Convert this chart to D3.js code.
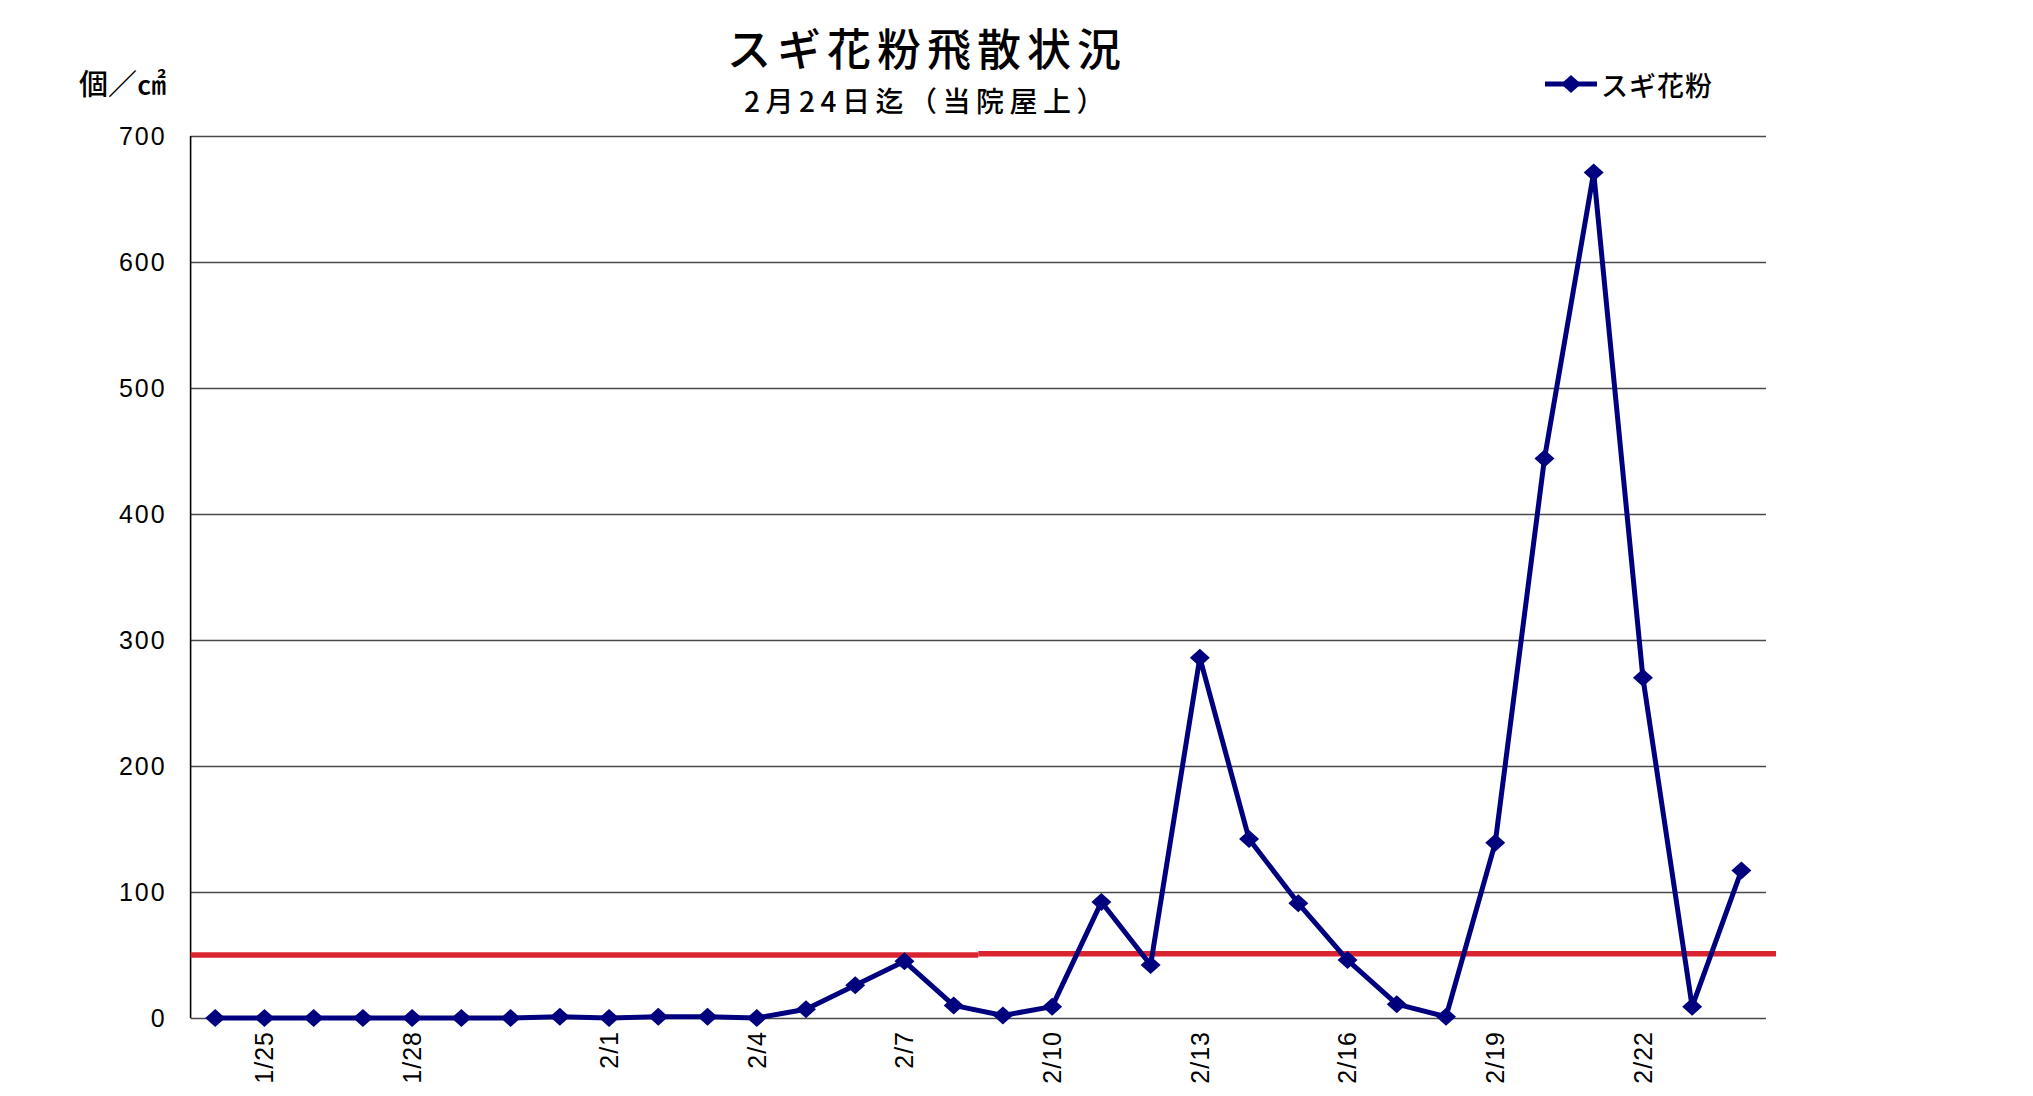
<!DOCTYPE html>
<html>
<head>
<meta charset="utf-8">
<script src="https://cdn.jsdelivr.net/npm/d3@7"></script>
<style>
  html, body { margin: 0; padding: 0; background: #ffffff; }
  svg { display: block; }
</style>
</head>
<body>
<script>
// ---------- DATA ----------
const categories = ["1/24","1/25","1/26","1/27","1/28","1/29","1/30","1/31",
                    "2/1","2/2","2/3","2/4","2/5","2/6","2/7","2/8","2/9","2/10",
                    "2/11","2/12","2/13","2/14","2/15","2/16","2/17","2/18",
                    "2/19","2/20","2/21","2/22","2/23","2/24"];
const sugiValues = [0,0,0,0,0,0,0,1,
                    0,1,1,0,7,26,45,10,2,9,
                    92,42,286,142,91,46,11,1,
                    139,444,671,270,9,117];
const xTickLabels = ["1/25","1/28","2/1","2/4","2/7","2/10","2/13","2/16","2/19","2/22"];
const yTickValues = [0,100,200,300,400,500,600,700];
const thresholdFrom = ["1/24","2/9"];
const thresholdTo = ["2/8","2/24"];
const thresholdValues = [50, 51];
const seriesName = "スギ花粉";
const titleText = "スギ花粉飛散状況";
const subtitleText = "2月24日迄（当院屋上）";
const unitText = "個／㎠";

// ---------- LAYOUT ----------
const W = 2033, H = 1096;
const plot = { left: 190.6, right: 1766, top: 136, bottom: 1018 };
const navy = "#00007f";
const red = "#da2530";
const cjk = "'Noto Sans CJK JP','Noto Sans CJK SC',sans-serif";
const latin = "'Liberation Sans','Arial',sans-serif";

const svg = d3.select("body").append("svg")
  .attr("width", W).attr("height", H);

const x = d3.scaleBand().domain(categories).range([plot.left, plot.right]).padding(0);
const y = d3.scaleLinear().domain([0, 700]).range([plot.bottom, plot.top]);
const cx = d => x(d) + x.bandwidth() / 2;

// ---------- Y AXIS + GRID ----------
const yAxis = d3.axisLeft(y)
  .tickValues(yTickValues)
  .tickSize(-(plot.right - plot.left))
  .tickPadding(24)
  .tickFormat(d3.format("d"));

const gy = svg.append("g")
  .attr("transform", `translate(${plot.left},0)`)
  .call(yAxis);
gy.select(".domain").remove();
gy.selectAll(".tick line")
  .attr("stroke", "#4a4a4a")
  .attr("stroke-width", 1.3);
gy.selectAll(".tick text")
  .attr("fill", "#000")
  .style("font-family", latin)
  .style("font-size", "25px")
  .style("letter-spacing", "2px");

// left axis line
svg.append("line")
  .attr("x1", plot.left).attr("x2", plot.left)
  .attr("y1", y(700)).attr("y2", y(0))
  .attr("stroke", "#000").attr("stroke-width", 1.6);

// ---------- X AXIS LABELS ----------
const xAxis = d3.axisBottom(x)
  .tickValues(xTickLabels)
  .tickSize(0)
  .tickPadding(0);
const gx = svg.append("g")
  .attr("transform", `translate(0,${plot.bottom})`)
  .call(xAxis);
gx.select(".domain").remove();
gx.selectAll(".tick text")
  .attr("fill", "#000")
  .style("font-family", latin)
  .style("font-size", "25px")
  .style("letter-spacing", "1px")
  .attr("text-anchor", "end")
  .attr("dy", "0.35em")
  .attr("x", -13)
  .attr("y", 0)
  .attr("transform", "rotate(-90)");

// ---------- THRESHOLD (red) ----------
svg.append("g").selectAll("line")
  .data(thresholdValues.map((v, i) => ({ v, from: thresholdFrom[i], to: thresholdTo[i], last: i === thresholdValues.length - 1 })))
  .join("line")
  .attr("x1", d => x(d.from))
  .attr("x2", d => x(d.to) + x.bandwidth() + (d.last ? 10 : 0))
  .attr("y1", d => y(d.v))
  .attr("y2", d => y(d.v))
  .attr("stroke", red)
  .attr("stroke-width", 5.5);

// ---------- SERIES ----------
const seriesData = categories.map((c, i) => ({ c, v: sugiValues[i] }));
const line = d3.line().x(d => cx(d.c)).y(d => y(d.v));
svg.append("path")
  .datum(seriesData)
  .attr("d", line)
  .attr("fill", "none")
  .attr("stroke", navy)
  .attr("stroke-width", 5)
  .attr("stroke-linejoin", "round");

const diamond = "M0,-9L10,0L0,9L-10,0Z";
svg.append("g").selectAll("path")
  .data(seriesData)
  .join("path")
  .attr("d", diamond)
  .attr("transform", d => `translate(${cx(d.c)},${y(d.v)})`)
  .attr("fill", navy);

// ---------- TITLES ----------
svg.append("text")
  .attr("x", 927).attr("y", 47)
  .attr("text-anchor", "middle")
  .attr("dominant-baseline", "central")
  .style("font-family", cjk)
  .style("font-size", "44px")
  .style("font-weight", 500)
  .style("letter-spacing", "6px")
  .text(titleText);

svg.append("text")
  .attr("x", 927).attr("y", 100)
  .attr("text-anchor", "middle")
  .attr("dominant-baseline", "central")
  .style("font-family", cjk)
  .style("font-size", "28px")
  .style("font-weight", 500)
  .style("letter-spacing", "5.5px")
  .text(subtitleText);

svg.append("text")
  .attr("x", 166).attr("y", 82)
  .attr("text-anchor", "end")
  .attr("dominant-baseline", "central")
  .style("font-family", cjk)
  .style("font-size", "29px")
  .style("font-weight", 500)
  .text(unitText);

// ---------- LEGEND ----------
const lg = svg.append("g");
lg.append("line")
  .attr("x1", 1545).attr("x2", 1597)
  .attr("y1", 84).attr("y2", 84)
  .attr("stroke", navy).attr("stroke-width", 5);
lg.append("path")
  .attr("d", diamond)
  .attr("transform", "translate(1571,84)")
  .attr("fill", navy);
lg.append("text")
  .attr("x", 1601).attr("y", 84)
  .attr("dominant-baseline", "central")
  .style("font-family", cjk)
  .style("font-size", "27px")
  .style("font-weight", 500)
  .style("letter-spacing", "1px")
  .text(seriesName);
</script>
</body>
</html>
